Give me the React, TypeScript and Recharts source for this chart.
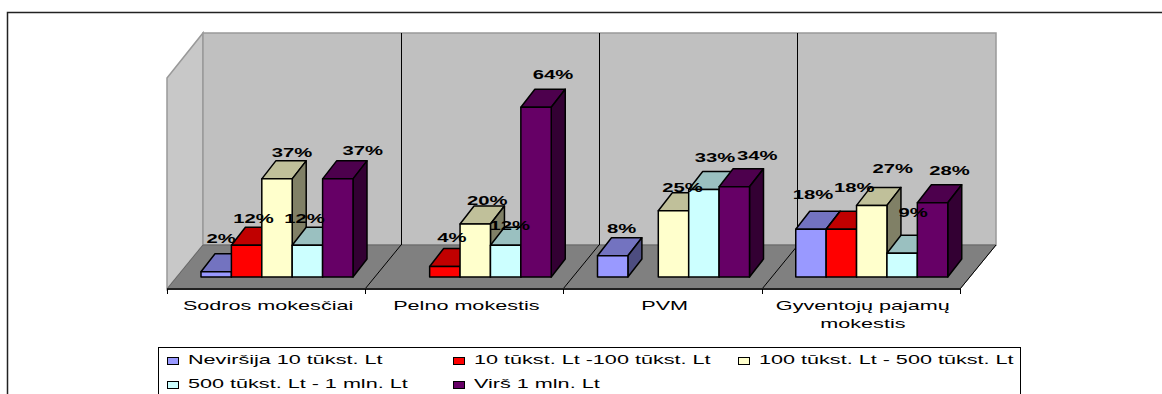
import { BarChart, Bar, XAxis, YAxis, Legend, LabelList } from 'recharts';

const categories = ['Sodros mokesčiai', 'Pelno mokestis', 'PVM', 'Gyventojų pajamų mokestis'];
const upTo10k = [2, null, 8, 18];
const from10kTo100k = [12, 4, null, 18];
const from100kTo500k = [37, 20, 25, 27];
const from500kTo1m = [12, 12, 33, 9];
const over1m = [37, 64, 34, 28];

const chartData = categories.map((category, i) => ({
  category,
  upTo10k: upTo10k[i],
  from10kTo100k: from10kTo100k[i],
  from100kTo500k: from100kTo500k[i],
  from500kTo1m: from500kTo1m[i],
  over1m: over1m[i],
}));

const series = [
  { key: 'upTo10k', name: 'Neviršija 10 tūkst. Lt', face: '#9999FF', top: '#7373C0', side: '#4D4D80' },
  { key: 'from10kTo100k', name: '10 tūkst. Lt -100 tūkst. Lt', face: '#FF0000', top: '#C00000', side: '#800000' },
  { key: 'from100kTo500k', name: '100 tūkst. Lt - 500 tūkst. Lt', face: '#FFFFCC', top: '#C0C09A', side: '#808066' },
  { key: 'from500kTo1m', name: '500 tūkst. Lt - 1 mln. Lt', face: '#CCFFFF', top: '#9AC0C0', side: '#668080' },
  { key: 'over1m', name: 'Virš 1 mln. Lt', face: '#660066', top: '#4D004D', side: '#330033' },
];

// hand placed data labels, same as the original chart: [dx, dy] from the bar top centre
const labelNudge = [
  [[5, -34], [0, 0], [9, -28], [2, -35]],
  [[7, -27], [7, -29], [0, 0], [13, -42]],
  [[15, -27], [12, -24], [9, -24], [21, -37]],
  [[-3, -27], [4, -20], [11, -32], [11, -41]],
  [[25, -29], [17, -33], [23, -32], [17, -33]],
];

const FONT = '"Liberation Sans", Arial, sans-serif';
const STRETCH = 1.6;
const LABEL_STRETCH = 1.5;
const PLOT_LEFT = 167;
const BAND = 198.25;
const BAR_WIDTH = 30.4;
const BAR_SHIFT = 11;
const DEPTH_X = 14;
const DEPTH_Y = 18;

const Bar3D = ({ x, y, width, height, face, top, side }: any) => {
  if (!height || height <= 0) return null;
  const bx = x + BAR_SHIFT;
  return (
    <g stroke="#000" strokeWidth={1.5} strokeLinejoin="round">
      <polygon points={`${bx},${y} ${bx + DEPTH_X},${y - DEPTH_Y} ${bx + width + DEPTH_X},${y - DEPTH_Y} ${bx + width},${y}`} fill={top} />
      <polygon points={`${bx + width},${y} ${bx + width + DEPTH_X},${y - DEPTH_Y} ${bx + width + DEPTH_X},${y + height - DEPTH_Y} ${bx + width},${y + height}`} fill={side} />
      <rect x={bx} y={y} width={width} height={height} fill={face} />
    </g>
  );
};

const ValueLabel = (seriesIndex: number) => ({ x, y, width, value }: any) => {
  if (value == null) return null;
  // LabelList skips the empty bars, so its index is no use here: take the band from x
  const band = Math.floor((x - PLOT_LEFT) / BAND);
  const [dx, dy] = labelNudge[seriesIndex][band];
  const cx = x + BAR_SHIFT + width / 2 + dx;
  return (
    <text
      transform={`translate(${cx},${y + dy + 5}) scale(${LABEL_STRETCH},1)`}
      textAnchor="middle"
      fontFamily={FONT}
      fontSize={13.5}
      fontWeight="bold"
      fill="#000"
    >
      {value}%
    </text>
  );
};

const wrapLines: Record<string, string[]> = {
  'Gyventojų pajamų mokestis': ['Gyventojų pajamų', 'mokestis'],
};

const CategoryTick = ({ x, payload }: any) => {
  const lines = wrapLines[payload.value] ?? [payload.value];
  return (
    <g>
      {lines.map((line, i) => (
        <text
          key={line}
          transform={`translate(${x + 2},${310 + i * 18}) scale(${STRETCH},1)`}
          textAnchor="middle"
          fontFamily={FONT}
          fontSize={13.5}
          fill="#000"
        >
          {line}
        </text>
      ))}
    </g>
  );
};

const legendCols = [167, 453, 738];
const legendRows = [356, 380];

const LegendBox = () => (
  <div style={{ position: 'absolute', left: 0, top: 0, width: 0, height: 0 }}>
    <div style={{ position: 'absolute', left: 158, top: 347, width: 861, height: 60, border: '1px solid #000', borderBottom: 'none' }} />
    {series.map((s, i) => (
      <div key={s.key} style={{ position: 'absolute', left: legendCols[i % 3], top: legendRows[Math.floor(i / 3)] }}>
        <span style={{ position: 'absolute', left: 0, top: 1, width: 10, height: 6, background: s.face, border: '1px solid #000' }} />
        <span
          style={{
            position: 'absolute',
            left: 21,
            top: -4,
            font: `13.5px ${FONT}`,
            color: '#000',
            whiteSpace: 'nowrap',
            transform: `scaleX(${STRETCH})`,
            transformOrigin: 'left',
          }}
        >
          {s.name}
        </span>
      </div>
    ))}
  </div>
);

const Walls = () => (
  <svg width={1162} height={394} style={{ position: 'absolute', left: 0, top: 0 }}>
    <path d="M7.5 394V12.5H1162" fill="none" stroke="#222" strokeWidth={1.5} />
    <polygon points="167,78 203,33 203,245 167,289" fill="#C8C8C8" stroke="#999" strokeWidth={1.5} />
    <polygon points="203,33 996,33 996,245 203,245" fill="#C0C0C0" stroke="#999" strokeWidth={1.5} />
    <polygon points="167,289 203,245 996,245 960,289" fill="#808080" stroke="#666" />
    {[401.5, 599.5, 797.5].map((x) => (
      <line key={x} x1={x} y1={33} x2={x} y2={245} stroke="#000" />
    ))}
    {[365, 563, 762, 960].map((x) => (
      <line key={x} x1={x} y1={289} x2={x + 36} y2={245} stroke="#000" />
    ))}
    <line x1={167} y1={289} x2={960} y2={289} stroke="#222" strokeWidth={2} />
    {[167.5, 365.5, 563.5, 762.5, 960.5].map((x) => (
      <line key={x} x1={x} y1={289} x2={x} y2={294} stroke="#000" />
    ))}
  </svg>
);

export default function App() {
  return (
    <div style={{ position: 'absolute', left: 0, top: 0, width: 1162, height: 394, overflow: 'hidden', background: '#fff' }}>
      <Walls />
      <div style={{ position: 'absolute', left: 0, top: 0 }}>
        <BarChart
          width={1162}
          height={394}
          data={chartData}
          margin={{ top: 78, right: 202, bottom: 65, left: PLOT_LEFT }}
          barGap={0}
          barSize={BAR_WIDTH}
        >
          <XAxis dataKey="category" height={40} interval={0} axisLine={false} tickLine={false} tick={<CategoryTick />} />
          <XAxis xAxisId="labels" dataKey="category" hide />
          <YAxis hide domain={[-4.5, 75]} allowDataOverflow />
          {series.map((s) => (
            <Bar
              key={s.key}
              dataKey={s.key}
              name={s.name}
              fill={s.face}
              isAnimationActive={false}
              shape={(props: any) => <Bar3D {...props} face={s.face} top={s.top} side={s.side} />}
            />
          ))}
          {/* second pass on a hidden axis so the labels sit above every bar */}
          {series.map((s, i) => (
            <Bar
              key={`${s.key}-label`}
              xAxisId="labels"
              dataKey={s.key}
              legendType="none"
              fill="none"
              isAnimationActive={false}
              shape={() => <g />}
            >
              <LabelList dataKey={s.key} content={ValueLabel(i)} />
            </Bar>
          ))}
          <Legend content={<LegendBox />} wrapperStyle={{ position: 'absolute', left: 0, top: 0, width: 0, height: 0 }} />
        </BarChart>
      </div>
    </div>
  );
}
